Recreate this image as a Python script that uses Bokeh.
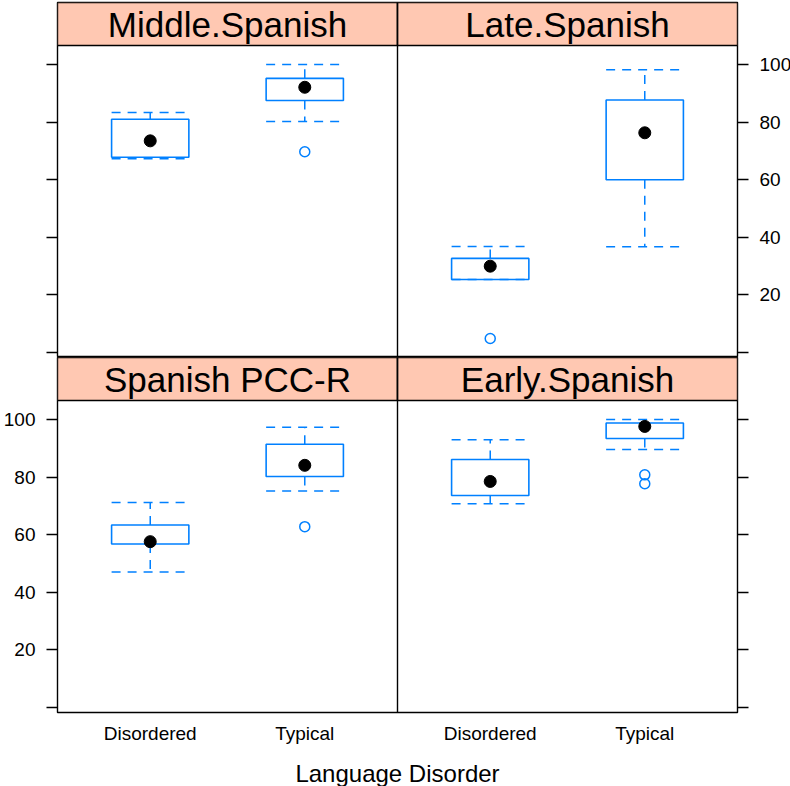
from bokeh.plotting import figure
from bokeh.models import Range1d, LinearAxis, FixedTicker, Span
from bokeh.layouts import column
from bokeh.embed import file_html
from bokeh.resources import INLINE
from bokeh.core.properties import value

# ---------------- data ----------------
groups = ["Disordered", "Typical"]
panel_names = ["Middle.Spanish", "Late.Spanish", "Spanish PCC-R", "Early.Spanish"]

# per panel: [Disordered, Typical]
whisker_low = [[67.3, 80.2], [25.4, 36.7], [47.1, 75.2], [70.8, 89.6]]
quartile_1 = [[67.8, 87.5], [25.4, 60.0], [56.8, 80.2], [73.6, 93.4]]
medians = [[73.5, 92.1], [30.0, 76.3], [57.6, 84.1], [78.5, 97.6]]
quartile_3 = [[81.0, 95.2], [32.7, 87.7], [63.4, 91.4], [86.1, 98.8]]
whisker_high = [[83.3, 100.0], [36.8, 98.2], [71.2, 97.3], [93.0, 100.0]]

outlier_panel = [0, 1, 2, 3, 3]
outlier_group = [1, 0, 1, 1, 1]
outlier_value = [69.7, 4.9, 62.8, 80.8, 77.7]

y_ticks = [0, 20, 40, 60, 80, 100]
x_title = "Language Disorder"

# ---------------- layout / style ----------------
Y_LO, Y_HI = -1.7, 106.6
PANEL_PX, STRIP_PX = 312, 43
FRAME_W = 680
PAD = 0.6
PANEL_SPAN = len(groups) - 1 + 2 * PAD
BOX_HALF = 0.25
BLUE = "#0080ff"
STRIP_FILL = "#ffc8b2"
FONT = "Liberation Sans"
DASH = "9 7"
EDGE_W = 1.4


def make_row(row, bottom):
    y_top = Y_HI + STRIP_PX * (Y_HI - Y_LO) / PANEL_PX
    x0 = 1 - PAD
    p = figure(
        frame_width=FRAME_W, frame_height=PANEL_PX + STRIP_PX,
        x_range=Range1d(x0, x0 + 2 * PANEL_SPAN), y_range=Range1d(Y_LO, y_top),
        output_backend="svg", toolbar_location=None,
        x_axis_location=None, y_axis_location=None,
        min_border_left=54, min_border_right=56,
        min_border_top=0 if bottom else 2,
        min_border_bottom=72 if bottom else 0,
        background_fill_color="white", border_fill_color="white",
        outline_line_color="black", outline_line_width=EDGE_W,
    )
    p.grid.visible = False

    # y axes
    for side in ("left", "right"):
        ax = LinearAxis(ticker=FixedTicker(ticks=y_ticks))
        ax.axis_line_color = None
        ax.major_tick_line_color = "black"
        ax.major_tick_line_width = 1.3
        ax.major_tick_out = 11
        ax.major_tick_in = 0
        ax.minor_tick_line_color = None
        ax.major_label_standoff = 11
        ax.major_label_text_font = FONT
        ax.major_label_text_font_size = "19px"
        ax.major_label_text_color = "black"
        show_labels = (side == "right" and row == 0) or (side == "left" and row == 1)
        if show_labels:
            ax.major_label_overrides = {0: ""}
        else:
            ax.major_label_overrides = {t: "" for t in y_ticks}
        p.add_layout(ax, side)

    # x axis
    if bottom:
        xt = []
        xl = {}
        for c in range(2):
            for i, g in enumerate(groups):
                pos = i + 1 + c * PANEL_SPAN
                xt.append(pos)
                xl[pos] = g
        xa = LinearAxis(ticker=FixedTicker(ticks=xt))
        xa.major_label_overrides = xl
        xa.axis_line_color = None
        xa.major_tick_line_color = None
        xa.minor_tick_line_color = None
        xa.major_tick_out = 0
        xa.major_tick_in = 0
        xa.major_label_standoff = 10
        xa.major_label_text_font = FONT
        xa.major_label_text_font_size = "19px"
        xa.major_label_text_color = "black"
        xa.axis_label = x_title
        xa.axis_label_text_font = FONT
        xa.axis_label_text_font_size = "24px"
        xa.axis_label_text_font_style = "normal"
        xa.axis_label_text_color = "black"
        xa.axis_label_standoff = 13
        p.add_layout(xa, "below")

    # strips
    lefts = [x0 + c * PANEL_SPAN for c in range(2)]
    rights = [l + PANEL_SPAN for l in lefts]
    p.quad(left=lefts, right=rights, bottom=[Y_HI] * 2, top=[y_top] * 2,
           fill_color=STRIP_FILL, line_color="black", line_width=EDGE_W)
    p.text(x=[(l + r) / 2 for l, r in zip(lefts, rights)],
           y=[(Y_HI + y_top) / 2] * 2,
           text=[panel_names[2 * row + c] for c in range(2)],
           text_font=value(FONT), text_font_size="35px",
           text_align="center", text_baseline="middle", text_color="black")

    # panel divider
    p.add_layout(Span(location=x0 + PANEL_SPAN, dimension="height",
                      line_color="black", line_width=EDGE_W))

    # boxes
    for c in range(2):
        k = 2 * row + c
        xs = [i + 1 + c * PANEL_SPAN for i in range(len(groups))]
        lo, q1, md, q3, hi = (whisker_low[k], quartile_1[k], medians[k],
                              quartile_3[k], whisker_high[k])
        # whiskers
        p.segment(x0=xs, y0=q3, x1=xs, y1=hi, line_color=BLUE, line_width=1.5, line_dash=DASH)
        p.segment(x0=xs, y0=q1, x1=xs, y1=lo, line_color=BLUE, line_width=1.5, line_dash=DASH)
        lx = [x - BOX_HALF for x in xs]
        rx = [x + BOX_HALF for x in xs]
        p.segment(x0=lx, y0=hi, x1=rx, y1=hi, line_color=BLUE, line_width=1.5, line_dash=DASH)
        p.segment(x0=lx, y0=lo, x1=rx, y1=lo, line_color=BLUE, line_width=1.5, line_dash=DASH)
        # box
        p.quad(left=lx, right=rx, bottom=q1, top=q3, fill_color=None,
               line_color=BLUE, line_width=1.6)
        # median dot
        p.scatter(x=xs, y=md, size=12, fill_color="black", line_color="black")
        # outliers
        ox = [outlier_group[j] + 1 + c * PANEL_SPAN for j in range(len(outlier_value)) if outlier_panel[j] == k]
        oy = [outlier_value[j] for j in range(len(outlier_value)) if outlier_panel[j] == k]
        if ox:
            p.scatter(x=ox, y=oy, size=10, marker="circle", fill_color=None,
                      line_color=BLUE, line_width=1.5)
    return p


top = make_row(0, False)
bot = make_row(1, True)
layout = column(top, bot, spacing=0)

open("out.html", "w").write(file_html(layout, INLINE))
